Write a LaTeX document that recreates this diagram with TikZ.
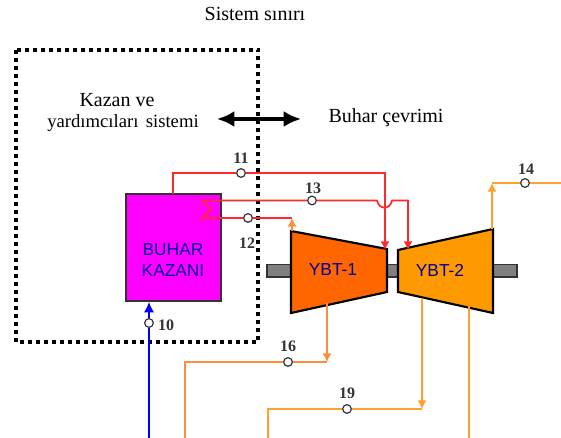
\documentclass[tikz,border=0pt]{standalone}
\usepackage{xcolor}
\usepackage{fontspec}
\setmainfont{Liberation Serif}
\setsansfont{Liberation Sans}
\usetikzlibrary{arrows.meta}

\definecolor{steamred}{HTML}{FF2A2A}
\definecolor{hporange}{HTML}{FF6600}
\definecolor{lporange}{HTML}{FF9900}
\definecolor{bleedhp}{HTML}{FF8C3C}
\definecolor{bleedlp}{HTML}{FFA030}
\definecolor{labelblue}{HTML}{000099}
\definecolor{numgray}{HTML}{333333}
\definecolor{kazanfill}{HTML}{FF00FF}

\tikzset{
  statept/.style={circle,draw=numgray,fill=white,line width=0.9pt,inner sep=0pt,minimum size=6.5pt},
  numlabel/.style={font=\fontsize{12}{12}\selectfont\bfseries,text=numgray,inner sep=0pt},
  bigtext/.style={font=\fontsize{15}{15}\selectfont,inner sep=0pt},
  unitlabel/.style={font=\fontsize{13}{15.5}\selectfont\sffamily,text=labelblue,align=center,inner sep=0pt},
  steamline/.style={draw=steamred,line width=1.3pt},
  tip/.style={-{Latex[length=6.5pt,width=7pt]}},
  turbine/.style={draw=black,line width=1.6pt,line join=miter}
}

\begin{document}
\begin{tikzpicture}[x=0.75pt,y=-0.75pt]
\useasboundingbox (0,0) rectangle (561,438);

% system boundary
\draw[line width=3pt,dash pattern=on 3pt off 3pt] (15.5,50) rectangle (258,342);
\node[bigtext] (sinir) at (255,14) {Sistem sınırı};
\node[bigtext] (kazanve) at (117,100) {Kazan ve};
\node[bigtext,font=\fontsize{14}{14}\selectfont] (yardimci) at (123,123) {yardımcıları\hspace{2pt} sistemi};
\node[bigtext] (cevrim) at (386,118) {Buhar çevrimi};
\coordinate (okl) at (217,119);
\coordinate (okr) at (301,119);
\draw[{Latex[length=13pt,width=12pt]}-{Latex[length=13pt,width=12pt]},line width=2.4pt] (okl) -- (okr);

% shaft
\draw[draw=numgray,fill=gray,line width=1pt] (267,264.5) rectangle (517,277);

% boiler and turbines
\node[draw=numgray,fill=kazanfill,line width=1.5pt,minimum width=71pt,minimum height=80pt] (kazan) at (173.5,247.5) {};
\node[unitlabel] (kazanad) at (173,260) {BUHAR\\KAZANI};
\draw[turbine,fill=hporange] (291,231) -- (387,249) -- (387,292) -- (291,313) -- cycle;
\draw[turbine,fill=lporange] (398,250) -- (493,229) -- (493,313) -- (398,292) -- cycle;
\node[unitlabel] (ybta) at (333,270) {YBT-1};
\node[unitlabel] (ybtb) at (440,270) {YBT-2};

% state points
\node[statept] (p10) at (149,323) {};
\node[statept] (p11) at (241,173) {};
\node[statept] (p12) at (248,218) {};
\node[statept] (p13) at (312,200.5) {};
\node[statept] (p14) at (525,183) {};
\node[statept] (p16) at (288,362) {};
\node[statept] (p19) at (347,409) {};
\node[numlabel] (n10) at (166,325) {10};
\node[numlabel] (n11) at (241,158) {11};
\node[numlabel] (n12) at (247,243) {12};
\node[numlabel] (n13) at (313,188) {13};
\node[numlabel] (n14) at (526,169) {14};
\node[numlabel] (n16) at (288,346) {16};
\node[numlabel] (n19) at (347,393) {19};

% free ends
\coordinate (k11) at (173,194);
\coordinate (c11) at (173,173);
\coordinate (a11) at (385,173);
\coordinate (e11) at (385,250);
\coordinate (zza) at (202,200.5);
\coordinate (zzb) at (211,209.5);
\coordinate (zzc) at (202,218);
\coordinate (h1) at (377,200.5);
\coordinate (h2) at (392,200.5);
\coordinate (a13) at (408,200.5);
\coordinate (e13) at (408,250);
\coordinate (a12) at (292,218);
\coordinate (t12) at (292,231);
\coordinate (t14) at (492,229);
\coordinate (a14) at (492,183);
\coordinate (r14) at (561,183);
\coordinate (b10) at (149,438);
\coordinate (s16) at (327,303);
\coordinate (e16) at (327,362);
\coordinate (l16) at (185,362);
\coordinate (b16) at (185,438);
\coordinate (s19) at (422,298);
\coordinate (e19) at (422,409);
\coordinate (l19) at (268,409);
\coordinate (b19) at (268,438);
\coordinate (s20) at (469,306);
\coordinate (b20) at (469,438);

% steam lines
\draw[steamline] (k11) -- (c11) -- (p11);
\draw[steamline,tip] (p11) -- (a11) -- (e11);
\draw[steamline] (p13) -- (zza) -- (zzb) -- (zzc) -- (p12);
\draw[steamline] (p12) -- (a12);
\draw[steamline] (p13) -- (h1) .. controls (379,210) and (390,210) .. (h2) -- (a13);
\draw[steamline,tip] (a13) -- (e13);
\draw[draw=bleedhp,line width=1.3pt,tip] (t12) -- (a12);

% water and bleed lines
\draw[draw=blue,line width=1.5pt] (b10) -- (p10);
\draw[draw=blue,line width=1.5pt,-{Latex[length=8pt,width=8pt]}] (p10) -- (kazan.south -| p10);
\draw[draw=bleedlp,line width=1.3pt,tip] (t14) -- (a14);
\draw[draw=bleedlp,line width=1.3pt] (a14) -- (p14) -- (r14);
\draw[draw=bleedhp,line width=1.3pt,tip] (s16) -- (e16);
\draw[draw=bleedhp,line width=1.3pt] (e16) -- (p16) -- (l16) -- (b16);
\draw[draw=bleedlp,line width=1.3pt,tip] (s19) -- (e19);
\draw[draw=bleedlp,line width=1.3pt] (e19) -- (p19) -- (l19) -- (b19);
\draw[draw=bleedlp,line width=1.3pt] (s20) -- (b20);
\end{tikzpicture}
\end{document}
